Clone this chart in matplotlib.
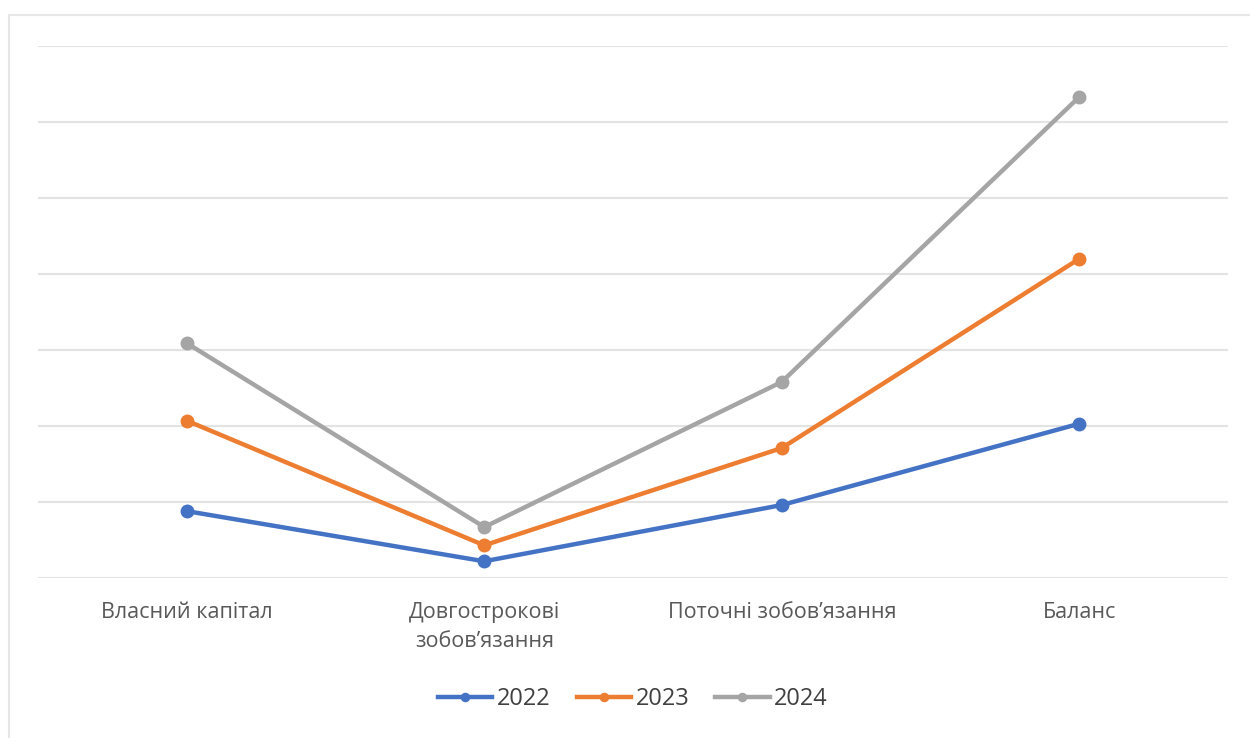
import numpy as np
import matplotlib.pyplot as plt
from matplotlib.patches import Rectangle

categories = ['Власний капітал', 'Довгострокові\nзобов\u2019язання', 'Поточні зобов\u2019язання', 'Баланс']
years = ['2022', '2023', '2024']
v2022 = [0.88, 0.22, 0.96, 2.03]
v2023 = [2.07, 0.43, 1.71, 4.20]
v2024 = [3.09, 0.67, 2.58, 6.33]
colors = ['#4472c4', '#ed7d31', '#a5a5a5']

plt.rcParams['font.family'] = ['Open Sans', 'DejaVu Sans']

fig = plt.figure(figsize=(12.5, 7.38), dpi=100)
fig.patches.append(Rectangle((9/1250, -0.01), 1.0, 1-15/738+0.01, transform=fig.transFigure,
                             fill=False, edgecolor='#e6e6e6', linewidth=1.5))
ax = fig.add_axes([38/1250, 1-578/738, 1190/1250, 532/738])

x = np.arange(len(categories))
for vals, yr, c in zip([v2022, v2023, v2024], years, colors):
    ax.plot(x, vals, '-o', color=c, lw=3.2, ms=9, label=yr)

ax.set_xlim(-0.5, 3.5)
ax.set_ylim(0, 7)
ax.set_yticks(np.arange(0, 8))
ax.yaxis.grid(True, color='#e3e3e3', lw=1.5)
ax.set_axisbelow(True)
ax.tick_params(axis='y', left=False, labelleft=False)
ax.tick_params(axis='x', length=0, pad=17, labelsize=15.5, labelcolor='#595959')
ax.set_xticks(x)
ax.set_xticklabels(categories, linespacing=1.55)
for s in ax.spines.values():
    s.set_visible(False)

ax.legend(loc='center', bbox_to_anchor=(0.5, -0.227), ncol=3, frameon=False,
          fontsize=17, handlelength=2.3, columnspacing=1.1, handletextpad=0.2,
          markerscale=0.65, labelcolor='#404040')

fig.savefig('out.png', dpi=100, facecolor='white')
